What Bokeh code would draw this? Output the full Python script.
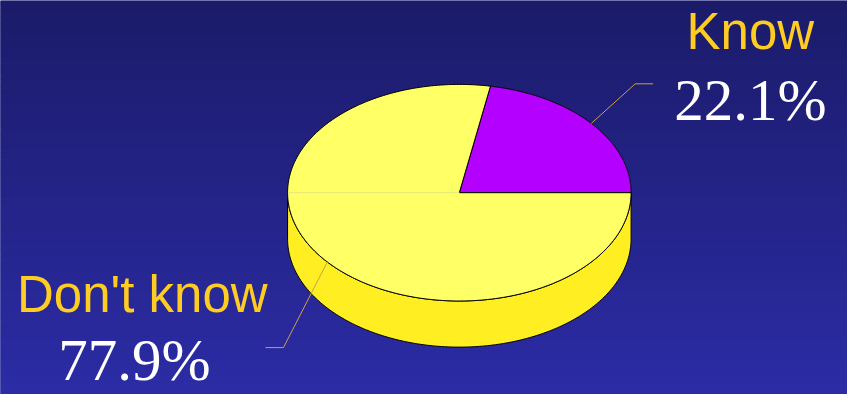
import numpy as np
from bokeh.plotting import figure
from bokeh.models import Range1d
from bokeh.core.properties import value
from bokeh.embed import file_html
from bokeh.resources import INLINE

# ---- data ----
labels = ["Know", "Don't know"]
percents = [22.1, 77.9]
pct_labels = ["22.1%", "77.9%"]
top_colors = ["#B400FF", "#FFFF66"]
side_colors = ["#8A00C4", "#FFEE22"]

# ---- layout constants (reference pixel coordinates) ----
cx, cy, rx, ry, depth = 467.5, 200.0, 175.0, 112.7, 48.0
text_shift = 19.5
name_pos = [(764, 51.5 - text_shift), (144.5, 325.0 - text_shift)]
pct_pos = [(764, 123.3 - text_shift), (136.5, 393.5 - text_shift)]
elbows = [(646.7, 86.7), (288.3, 361.2)]
leader_ends = [(665.0, 86.7), (270.0, 361.2)]

p = figure(width=847, height=394, x_range=Range1d(0, 863), y_range=Range1d(410, 0),
           output_backend="svg", toolbar_location=None, min_border=0)
p.axis.visible = False
p.grid.visible = False
p.outline_line_color = None
p.border_fill_color = "#25258A"
p.background_fill_color = "#25258A"

# background gradient
top_rgb = np.array([27, 27, 105])
bot_rgb = np.array([44, 44, 166])
edges = np.arange(0, 412, 2)
cols = []
for y0 in edges[:-1]:
    t = (y0 + 1) / 410.0
    c = (top_rgb + (bot_rgb - top_rgb) * t).round().astype(int)
    cols.append("#%02x%02x%02x" % tuple(c))
p.quad(left=-5, right=868, top=edges[:-1], bottom=edges[1:] + 0.6, fill_color=cols, line_color=None)


def ell(a_deg, dy=0.0):
    a = np.radians(a_deg)
    return cx + rx * np.cos(a), cy - ry * np.sin(a) + dy


total = sum(percents)
angles = np.concatenate([[0], np.cumsum(percents) / total * 360.0])

# side walls (front half only)
for i in range(len(percents)):
    s, e = max(angles[i], 180.0), min(angles[i + 1], 360.0)
    if s < e:
        t = np.linspace(s, e, 200)
        xt, yt = ell(t)
        xb, yb = ell(t[::-1], depth)
        p.patch(np.concatenate([xt, xb]), np.concatenate([yt, yb]),
                fill_color=side_colors[i], line_color="black", line_width=1)

# top faces
for i in range(len(percents)):
    t = np.linspace(angles[i], angles[i + 1], 300)
    xt, yt = ell(t)
    p.patch(np.concatenate([[cx], xt, [cx]]), np.concatenate([[cy], yt, [cy]]),
            fill_color=top_colors[i], line_color="black", line_width=1)

# faint seam on the left half of the top face
p.line([cx - rx + 1, cx], [cy, cy], line_color="#E6E680", line_width=1)

# leader lines
xs, ys = [], []
for i in range(len(percents)):
    mid = (angles[i] + angles[i + 1]) / 2
    sx, sy = ell(mid)
    xs.append([sx, elbows[i][0], leader_ends[i][0]])
    ys.append([sy, elbows[i][1], leader_ends[i][1]])
p.multi_line(xs, ys, line_color="#C8A048", line_width=1)

# labels
p.text(x=[q[0] for q in name_pos], y=[q[1] for q in name_pos], text=labels,
       text_font=value("Liberation Sans"), text_font_size="51px", text_color="#FFCC22",
       text_align="center", text_baseline="alphabetic")
p.text(x=[q[0] for q in pct_pos], y=[q[1] for q in pct_pos], text=pct_labels,
       text_font=value("Liberation Serif"), text_font_size="59px", text_color="white",
       text_align="center", text_baseline="alphabetic")

open("out.html", "w").write(file_html(p, INLINE))
